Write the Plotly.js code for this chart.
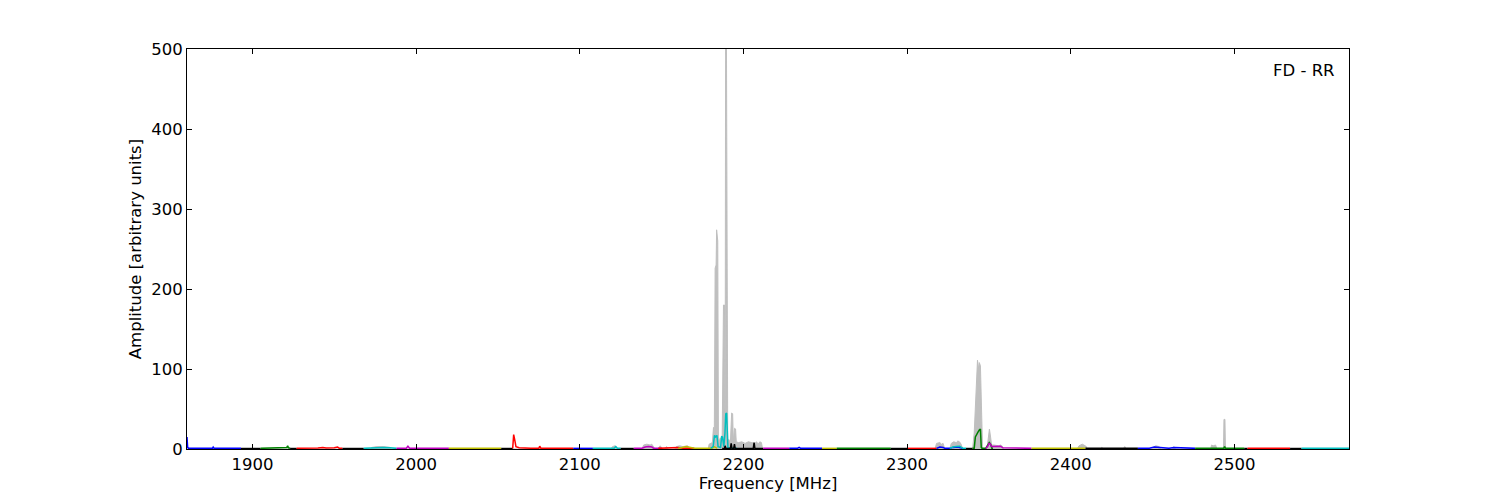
<!DOCTYPE html>
<html>
<head>
<meta charset="utf-8">
<script src="https://cdn.plot.ly/plotly-3.0.1.min.js"></script>
<style>html,body{margin:0;padding:0;background:#fff;}#chart{width:1500px;height:500px;}</style>
</head>
<body>
<div id="chart"></div>
<script>
// ---- Data (Frequency in MHz, Amplitude in arbitrary units) ----
const xTicks = [1900, 2000, 2100, 2200, 2300, 2400, 2500];
const yTicks = [0, 100, 200, 300, 400, 500];
const panelLabel = "FD - RR";

// Gray envelope (maximum hold)
const grayFreq = [1860, 1972, 1973, 1976, 1980, 1984, 1985,
  2119, 2120, 2121.5, 2122.5, 2123, 2138, 2139, 2141, 2143, 2144, 2145, 2146, 2148, 2149, 2150, 2151, 2152, 2153, 2154, 2158, 2159, 2161, 2163, 2166, 2167,
  2178.5, 2179, 2180, 2181, 2181.7, 2182.2, 2182.7, 2183.3, 2183.6, 2184.3, 2184.7, 2185.3, 2186, 2187, 2187.8, 2188.4, 2188.8, 2189.1, 2189.6, 2190, 2190.4, 2191, 2192, 2192.8, 2193.4, 2193.8, 2194.6, 2195.2, 2195.6, 2197, 2199, 2201, 2203, 2205, 2207, 2208, 2209, 2210, 2211, 2211.7,
  2317, 2318, 2320, 2321, 2322, 2323, 2326, 2327, 2328.5, 2330, 2331, 2332, 2333, 2334, 2340, 2341, 2342, 2343, 2343.6, 2344.1, 2344.8, 2345.5, 2346.1, 2348.8, 2349.5, 2350.3, 2351, 2351.6, 2353, 2355, 2356, 2357, 2358, 2359,
  2404, 2405, 2407, 2408, 2409.5, 2410, 2418, 2419, 2420, 2432, 2433, 2434, 2450, 2451, 2452, 2454, 2455, 2462, 2463, 2464, 2485.5, 2486, 2487, 2488.5, 2489.3, 2493.3, 2493.6, 2494.2, 2494.5, 2570];
const grayAmp = [0, 0, 2, 3, 3, 2, 0,
  0, 3, 4, 2, 0, 0, 5, 6, 5, 6, 2, 0, 0, 4, 2, 0, 0, 3, 0, 0, 3, 4, 3, 4, 0,
  0, 6, 7, 8, 27, 20, 226, 230, 274, 260, 15, 10, 14, 10, 180, 180, 12, 520, 520, 20, 10, 12, 8, 45, 44, 10, 26, 25, 9, 8, 9, 7, 9, 8, 7, 9, 6, 9, 8, 0,
  0, 7, 8, 6, 7, 0, 0, 7, 9, 8, 10, 9, 6, 0, 0, 20, 60, 111, 100, 108, 104, 30, 0, 0, 15, 25, 15, 5, 5, 4, 4, 5, 4, 0,
  0, 4, 6, 5, 3, 0, 0, 2, 0, 0, 3, 0, 0, 3, 4, 3, 0, 0, 3, 0, 0, 5, 4, 5, 0, 0, 37, 37, 0, 0];

// Colored band traces (one per receiver band)
const band01Freq = [1860, 1860.4, 1861, 1865, 1870, 1875.5, 1876, 1876.6, 1885, 1893];
const band01Amp  = [15, 2, 0.8, 0.8, 0.8, 0.8, 2.5, 0.8, 0.8, 0.8];
const band02Freq = [1893, 1899, 1905];
const band02Amp  = [0.6, 0.8, 0.6];
const band03Freq = [1905, 1910, 1915, 1919, 1921, 1921.5, 1922, 1923];
const band03Amp  = [0.8, 1, 1.2, 1.5, 2, 4, 1.5, 1];
const band04Freq = [1923, 1927];
const band04Amp  = [0.6, 0.6];
const band05Freq = [1927, 1935, 1940, 1943, 1945, 1950, 1952, 1953, 1955];
const band05Amp  = [1, 1, 1.2, 2, 1.2, 1.5, 2.5, 1, 1];
const band06Freq = [1955, 1968];
const band06Amp  = [0.6, 0.6];
const band07Freq = [1968, 1972, 1976, 1980, 1984, 1988];
const band07Amp  = [0.8, 1.5, 2, 2, 1.5, 0.8];
const band08Freq = [1988, 1994, 1995, 1996, 2005, 2020];
const band08Amp  = [0.8, 1, 3.5, 1, 0.8, 0.8];
const band09Freq = [2020, 2035, 2052];
const band09Amp  = [0.8, 0.8, 0.8];
const band10Freq = [2052, 2059];
const band10Amp  = [0.6, 0.6];
const band11Freq = [2059, 2059.6, 2060.2, 2061, 2063, 2066, 2070, 2075, 2075.5, 2076.2, 2080, 2090, 2096];
const band11Amp  = [0.8, 18, 12, 3, 1.5, 1, 1, 1, 3.5, 1, 0.8, 0.8, 0.8];
const band12Freq = [2096, 2102, 2108];
const band12Amp  = [0.8, 0.8, 0.8];
const band13Freq = [2108, 2115, 2121, 2122, 2123, 2125];
const band13Amp  = [0.8, 0.8, 1, 3, 1, 0.8];
const band14Freq = [2125, 2133];
const band14Amp  = [0.6, 0.6];
const band15Freq = [2133, 2138, 2140, 2142, 2144, 2145, 2150];
const band15Amp  = [0.8, 1, 2.5, 3, 2.5, 1, 0.8];
const band16Freq = [2148, 2155, 2160, 2163, 2170];
const band16Amp  = [0.8, 1, 2, 1, 0.8];
const band17Freq = [2160, 2163, 2165, 2170, 2176, 2181, 2182, 2183, 2184];
const band17Amp  = [0.8, 2, 3, 1, 0.8, 1, 3, 2, 0.8];
const band18Freq = [2180, 2181.5, 2182.3, 2183, 2183.8, 2184.5, 2186, 2186.7, 2187.2, 2188, 2188.7, 2189.2, 2189.7, 2190.5, 2193, 2196];
const band18Amp  = [0.8, 3, 17, 15, 17, 3, 2, 16, 15, 3, 20, 44, 45, 2, 1, 0.8];
const band19Freq = [2187, 2188.4, 2188.8, 2189.3, 2192, 2192.5, 2193, 2194, 2194.5, 2195, 2200, 2206, 2206.5, 2207, 2212];
const band19Amp  = [0.6, 0.6, 4, 0.6, 0.6, 7, 0.6, 0.6, 6, 0.6, 0.6, 0.6, 8, 0.6, 0.6];
const band20Freq = [2212, 2216, 2220, 2221, 2228];
const band20Amp  = [0.8, 1, 1.5, 1, 0.8];
const band21Freq = [2228, 2233, 2234, 2235, 2248];
const band21Amp  = [0.8, 0.8, 2, 0.8, 0.8];
const band22Freq = [2248, 2257];
const band22Amp  = [0.8, 0.8];
const band23Freq = [2257, 2270, 2280, 2290];
const band23Amp  = [0.8, 0.8, 0.8, 0.8];
const band24Freq = [2290, 2300];
const band24Amp  = [0.6, 0.6];
const band25Freq = [2300, 2310, 2318];
const band25Amp  = [0.8, 0.8, 0.8];
const band26Freq = [2318, 2319, 2320, 2322, 2323, 2326, 2328, 2331, 2333, 2334];
const band26Amp  = [0.8, 2, 2.5, 2, 0.8, 0.8, 2, 2.5, 1, 0.8];
const band27Freq = [2326, 2328, 2330, 2332, 2334, 2336];
const band27Amp  = [0.8, 2.5, 3, 3.5, 1, 0.8];
const band28Freq = [2336, 2340];
const band28Amp  = [0.6, 0.6];
const band29Freq = [2340, 2341, 2341.7, 2342.5, 2343.3, 2344.2, 2344.8, 2345.3, 2345.8, 2348, 2349.3, 2350.2, 2351, 2351.8, 2352.5];
const band29Amp  = [0.8, 1, 15, 19, 21, 24, 25, 2, 0.8, 0.8, 5, 8, 6, 1, 0.8];
const band30Freq = [2348, 2349.2, 2350, 2350.8, 2351.6, 2352.5, 2355, 2357, 2358.5, 2365, 2376];
const band30Amp  = [0.8, 3, 7, 6.5, 3, 3, 3, 3.5, 1.5, 1, 0.8];
const band31Freq = [2376, 2390, 2405, 2407, 2409];
const band31Amp  = [0.8, 0.8, 1, 1.5, 0.8];
const band32Freq = [2409, 2420, 2430, 2441];
const band32Amp  = [0.8, 1, 1, 0.8];
const band33Freq = [2441, 2448, 2451, 2454, 2460, 2463, 2470, 2476];
const band33Amp  = [0.8, 1, 2.5, 2, 1, 2, 1, 0.8];
const band34Freq = [2476, 2485, 2490, 2493.5, 2494, 2494.5, 2500, 2506];
const band34Amp  = [0.8, 0.8, 1, 1, 3, 1, 0.8, 0.8];
const band35Freq = [2506, 2508];
const band35Amp  = [0.6, 0.6];
const band36Freq = [2508, 2520, 2534];
const band36Amp  = [0.8, 1, 0.8];
const band37Freq = [2534, 2541];
const band37Amp  = [0.6, 0.6];
const band38Freq = [2541, 2555, 2570];
const band38Amp  = [0.8, 0.8, 0.8];

const bandFreqs = [band01Freq, band02Freq, band03Freq, band04Freq, band05Freq, band06Freq, band07Freq, band08Freq, band09Freq, band10Freq,
  band11Freq, band12Freq, band13Freq, band14Freq, band15Freq, band16Freq, band17Freq, band18Freq, band19Freq, band20Freq,
  band21Freq, band22Freq, band23Freq, band24Freq, band25Freq, band26Freq, band27Freq, band28Freq, band29Freq, band30Freq,
  band31Freq, band32Freq, band33Freq, band34Freq, band35Freq, band36Freq, band37Freq, band38Freq];
const bandAmps = [band01Amp, band02Amp, band03Amp, band04Amp, band05Amp, band06Amp, band07Amp, band08Amp, band09Amp, band10Amp,
  band11Amp, band12Amp, band13Amp, band14Amp, band15Amp, band16Amp, band17Amp, band18Amp, band19Amp, band20Amp,
  band21Amp, band22Amp, band23Amp, band24Amp, band25Amp, band26Amp, band27Amp, band28Amp, band29Amp, band30Amp,
  band31Amp, band32Amp, band33Amp, band34Amp, band35Amp, band36Amp, band37Amp, band38Amp];
const bandColorKeys = ["b","k","g","k","r","k","c","m","y","k",
  "r","b","c","k","m","r","y","c","k","m",
  "b","y","g","k","r","b","c","k","g","m",
  "y","k","b","g","k","r","k","c"];

// ---- Styling ----
const palette = {b: "#0000ff", g: "#008000", r: "#ff0000", c: "#00bfbf", m: "#bf00bf", y: "#bfbf00", k: "#000000"};
const FONT = "DejaVu Sans, Liberation Sans, sans-serif";

const traces = [{
  x: grayFreq, y: grayAmp, type: "scatter", mode: "lines",
  fill: "tozeroy", fillcolor: "#bfbfbf",
  line: {color: "#bfbfbf", width: 1}, hoverinfo: "skip", showlegend: false
}];
for (let i = 0; i < bandFreqs.length; i++) {
  traces.push({
    x: bandFreqs[i], y: bandAmps[i], type: "scatter", mode: "lines",
    line: {color: palette[bandColorKeys[i]], width: 1.5},
    showlegend: false, hoverinfo: "skip"
  });
}

const axisCommon = {
  showline: true, linecolor: "#000", linewidth: 1, mirror: "ticks",
  ticks: "inside", ticklen: 5, tickwidth: 1, tickcolor: "#000",
  showgrid: false, zeroline: false,
  tickfont: {family: FONT, size: 16.5, color: "#000"}
};

const layout = {
  width: 1500, height: 500,
  margin: {l: 187, r: 151, t: 49, b: 51},
  paper_bgcolor: "#fff", plot_bgcolor: "#fff",
  xaxis: Object.assign({}, axisCommon, {
    range: [1860, 2570], tickvals: xTicks, ticktext: xTicks.map(String),
    title: {text: "Frequency [MHz]", font: {family: FONT, size: 16.5, color: "#000"}, standoff: 2}
  }),
  yaxis: Object.assign({}, axisCommon, {
    range: [0, 500], tickvals: yTicks, ticktext: yTicks.map(String),
    title: {text: "Amplitude [arbitrary units]", font: {family: FONT, size: 16.5, color: "#000"}, standoff: 5}
  }),
  annotations: [{
    text: panelLabel, xref: "paper", yref: "paper", x: 0.99, y: 0.9475,
    xanchor: "right", yanchor: "middle", showarrow: false,
    font: {family: FONT, size: 16.5, color: "#000"}
  }]
};

Plotly.newPlot("chart", traces, layout, {staticPlot: true, displayModeBar: false});
</script>
</body>
</html>
